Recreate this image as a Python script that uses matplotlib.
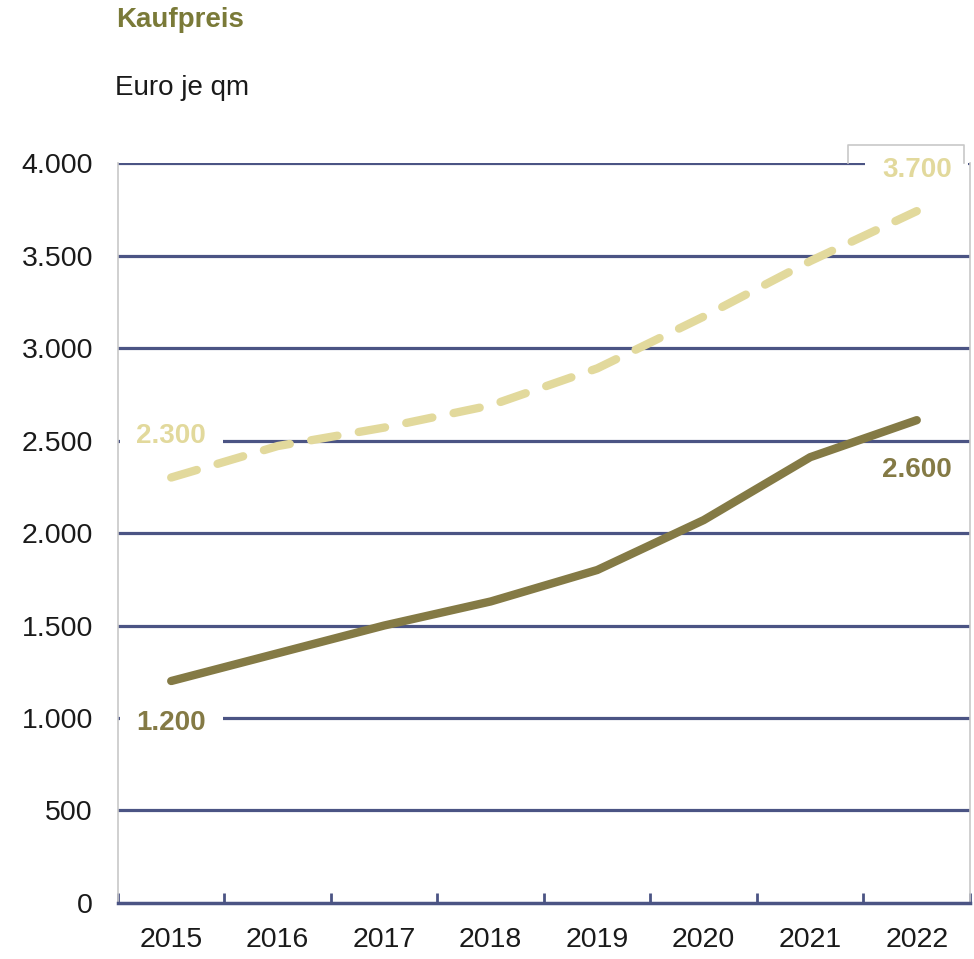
import numpy as np
import matplotlib.pyplot as plt

plt.rcParams['font.family'] = ['Liberation Sans', 'DejaVu Sans']

# Daten (Euro je qm)
jahre = ['2015', '2016', '2017', '2018', '2019', '2020', '2021', '2022']
kaufpreis_a = [2300, 2470, 2570, 2690, 2890, 3170, 3470, 3740]   # gestrichelt, hell
kaufpreis_b = [1200, 1350, 1500, 1630, 1800, 2070, 2410, 2610]   # durchgezogen, dunkel
y_ticks = [0, 500, 1000, 1500, 2000, 2500, 3000, 3500, 4000]
y_tick_labels = ['0', '500', '1.000', '1.500', '2.000', '2.500', '3.000', '3.500', '4.000']

navy = '#4b5484'
hell = '#e2d99c'
dunkel = '#847a45'

fig = plt.figure(figsize=(9.74, 9.59), dpi=100)
ax = fig.add_axes([0.1211, 0.0584, 0.8748, 0.7716])

x = np.arange(len(jahre))

# Gitterlinien
for t in y_ticks[1:]:
    ax.axhline(t, color=navy, lw=2.3, zorder=1)

ax.plot(x, kaufpreis_a, color=hell, lw=6, ls=(0, (3.2, 2.6)),
        dash_capstyle='round', solid_capstyle='round', zorder=3)
ax.plot(x, kaufpreis_b, color=dunkel, lw=6, solid_capstyle='round', zorder=3)

ax.set_xlim(-0.5, len(jahre) - 0.5)
ax.set_ylim(0, 4000)

ax.set_yticks(y_ticks)
ax.set_yticklabels(y_tick_labels)
ax.tick_params(axis='y', length=0, pad=18, labelsize=20.5, labelcolor='#1a1a1a')

ax.set_xticks(x)
ax.set_xticklabels(jahre)
ax.set_xticks(np.arange(len(jahre) + 1) - 0.5, minor=True)
ax.tick_params(axis='x', which='major', length=0, pad=17, labelsize=20.5, labelcolor='#1a1a1a')
ax.tick_params(axis='x', which='minor', direction='in', length=7, width=2, color=navy)

for s in ['left', 'right', 'top']:
    ax.spines[s].set_color('#c8c8c8')
    ax.spines[s].set_linewidth(1.2)
ax.spines['top'].set_visible(False)
ax.spines['bottom'].set_color(navy)
ax.spines['bottom'].set_linewidth(2.5)

# Beschriftungen der Endwerte (weißer Hintergrund unterbricht die Gitterlinien, nicht die Kurven)
weiss = dict(facecolor='white', edgecolor='none', boxstyle='square,pad=0.6')
ax.text(0, 2525, '2.300', color=hell, fontsize=20, fontweight='bold',
        ha='center', va='center', bbox=weiss, zorder=2)
ax.text(0, 975, '1.200', color=dunkel, fontsize=20, fontweight='bold',
        ha='center', va='center', bbox=weiss, zorder=2)
ax.text(7, 2340, '2.600', color=dunkel, fontsize=20, fontweight='bold',
        ha='center', va='center', zorder=4)
ax.text(7, 3960, '3.700', color=hell, fontsize=20, fontweight='bold',
        ha='center', va='center', bbox=weiss, zorder=2, clip_on=False)
# Rahmen um das obere Label
ax.plot([0.8563, 0.8563, 0.9932, 0.9932], [1.0, 1.025, 1.025, 1.0], transform=ax.transAxes,
        color='#c8c8c8', lw=1.2, clip_on=False, zorder=5)

fig.text(0.119, 0.979, 'Kaufpreis', color='#7a7a38', fontsize=20, fontweight='bold', va='center')
fig.text(0.118, 0.908, 'Euro je qm', color='#1a1a1a', fontsize=20, va='center')

fig.savefig('out.png', dpi=100)
